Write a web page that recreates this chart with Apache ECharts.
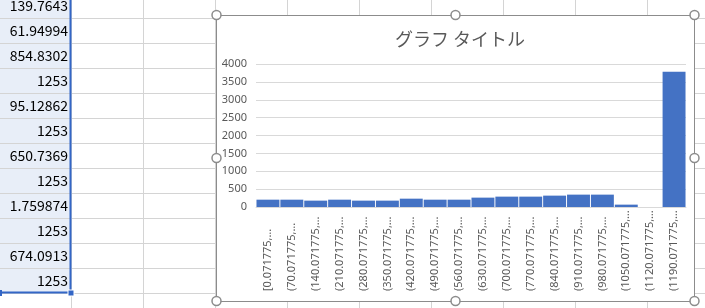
<!DOCTYPE html>
<html>
<head>
<meta charset="utf-8">
<script src="https://cdn.jsdelivr.net/npm/echarts@6/dist/echarts.min.js"></script>
<style>
html, body { margin: 0; padding: 0; background: #fff; }
#main { width: 705px; height: 308px; }
</style>
</head>
<body>
<div id="main"></div>
<script>
// シートのセル値(左の列)
var cellValues = ['139.7643', '61.94994', '854.8302', '1253', '95.12862', '1253',
	'650.7369', '1253', '1.759874', '1253', '674.0913', '1253'];

// ヒストグラムのビン
var binLabels = ['[0.071775,…', '(70.071775,…', '(140.071775,…', '(210.071775,…',
	'(280.071775,…', '(350.071775,…', '(420.071775,…', '(490.071775,…',
	'(560.071775,…', '(630.071775,…', '(700.071775,…', '(770.071775,…',
	'(840.071775,…', '(910.071775,…', '(980.071775,…', '(1050.071775,…',
	'(1120.071775,…', '(1190.071775,…'];
var binCounts = [205, 205, 178, 205, 178, 178, 233, 205, 205, 262,
	290, 290, 318, 346, 346, 66, 0, 3780];

var yTicks = [0, 500, 1000, 1500, 2000, 2500, 3000, 3500, 4000];

// シートの背景(罫線・選択範囲)
var sheet = [];
sheet.push({type: 'rect', z: -3, shape: {x: 0, y: 0, width: 70, height: 293}, style: {fill: '#e8eef8'}});
for (var r = 0; r < 12; r++) {
	var ly = 18 + r * 25 + 0.5;
	sheet.push({type: 'line', z: -2, shape: {x1: 0, y1: ly, x2: 705, y2: ly}, style: {stroke: '#d4d4d4', lineWidth: 1}});
}
for (var c = 0; c < 10; c++) {
	var lx = 71 + c * 72 + 0.5;
	sheet.push({type: 'line', z: -2, shape: {x1: lx, y1: 0, x2: lx, y2: 308}, style: {stroke: '#d4d4d4', lineWidth: 1}});
}
for (var i = 0; i < cellValues.length; i++) {
	sheet.push({type: 'text', z: -1, x: 68, y: 6 + i * 25,
		style: {text: cellValues[i], align: 'right', verticalAlign: 'middle',
			font: '14px "Noto Sans CJK JP"', fill: '#000'}});
}
// 選択範囲の枠
sheet.push({type: 'line', z: -1, shape: {x1: 70.5, y1: 0, x2: 70.5, y2: 293}, style: {stroke: '#3366c6', lineWidth: 2}});
sheet.push({type: 'line', z: -1, shape: {x1: 0, y1: 292.5, x2: 71, y2: 292.5}, style: {stroke: '#3366c6', lineWidth: 2}});
sheet.push({type: 'rect', z: -1, shape: {x: 68, y: 290, width: 6, height: 6}, style: {fill: '#3366c6', stroke: '#fff', lineWidth: 1}});
sheet.push({type: 'rect', z: -1, shape: {x: 0, y: 290, width: 2, height: 6}, style: {fill: '#3366c6'}});

// グラフ枠
sheet.push({type: 'rect', z: -1, shape: {x: 216.5, y: 15.5, width: 478, height: 286}, style: {fill: '#fff', stroke: '#8c8c8c', lineWidth: 1}});
var handles = [[216.5, 15], [455.5, 15], [694.5, 15], [216.5, 158], [694.5, 158], [216.5, 301], [455.5, 301], [694.5, 301]];
for (var h = 0; h < handles.length; h++) {
	sheet.push({type: 'circle', z: 10, shape: {cx: handles[h][0], cy: handles[h][1], r: 4.5},
		style: {fill: '#fff', stroke: '#8c8c8c', lineWidth: 1.5}});
}

var myChart = echarts.init(document.getElementById('main'));
var option = {
	animation: false,
	title: {
		text: 'グラフ タイトル',
		left: 390,
		top: 25,
		textStyle: {fontFamily: 'Noto Sans CJK JP', fontSize: 18, fontWeight: 'normal', color: '#595959'}
	},
	graphic: sheet,
	grid: {left: 256, right: 19, top: 64, bottom: 101, outerBoundsMode: 'none'},
	xAxis: {
		type: 'category',
		data: binLabels,
		axisLine: {show: true, lineStyle: {color: '#d9d9d9'}},
		axisTick: {show: false},
		axisLabel: {
			interval: 0, rotate: 90, align: 'left', margin: 84,
			fontFamily: 'Liberation Sans Narrow, Noto Sans', fontSize: 11, color: '#595959'
		}
	},
	yAxis: {
		type: 'value',
		min: yTicks[0],
		max: yTicks[yTicks.length - 1],
		interval: 500,
		axisLine: {show: false},
		axisTick: {show: false},
		axisLabel: {
			margin: 9, fontFamily: 'Noto Sans', fontSize: 11, color: '#595959',
			formatter: function (v) { return String(v); }
		},
		splitLine: {lineStyle: {color: '#d9d9d9'}}
	},
	series: [{
		type: 'bar',
		data: binCounts,
		barCategoryGap: '4%',
		itemStyle: {color: '#4472c4'}
	}]
};
myChart.setOption(option);
</script>
</body>
</html>
